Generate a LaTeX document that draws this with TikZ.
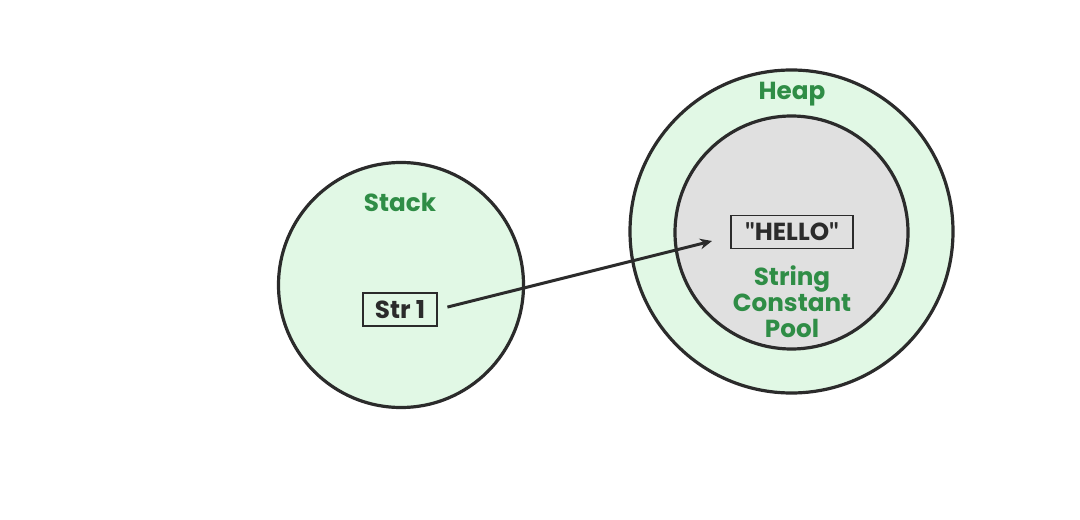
\documentclass[tikz,border=0pt]{standalone}
\usepackage{fontspec}
\setmainfont{Poppins}
\newfontfamily\quotefont{Lato}
\usetikzlibrary{arrows.meta}

\definecolor{gfggreen}{HTML}{2F8D46}
\definecolor{memfill}{HTML}{E1F8E5}
\definecolor{poolfill}{HTML}{E0E0E0}
\definecolor{edge}{HTML}{2B2B2B}

\newcommand{\dq}{{\quotefont\bfseries\symbol{34}}}

\tikzset{
    area/.style={circle, draw=edge, line width=2.4pt, fill=memfill, inner sep=0pt},
    title/.style={text=gfggreen, font=\fontsize{18.5}{19.5}\selectfont\bfseries, align=center},
    var/.style={draw=edge, line width=1.1pt, font=\fontsize{18.5}{20}\selectfont\bfseries,
        text=edge, inner sep=0pt, minimum height=24.75pt}
}

\begin{document}
\begin{tikzpicture}[x=0.75pt, y=-0.75pt]
            \useasboundingbox (0,0) rectangle (1080,520);

            \node [area, minimum size=183.75pt] (stack) at (401,285) {};
            \node [area, minimum size=242.25pt] (heap) at (791.5,231.5) {};
            \node [area, fill=poolfill, minimum size=174.75pt] (pool) at (791.5,232.5) {};

            \node [title] (stacklbl) at (400,202) {Stack};
            \node [title] (heaplbl) at (792,94) {Heap};
            \node [title] (poollbl) at (792,302) {String\\Constant\\Pool};

            \node [var, minimum width=55.5pt] (str) at (400,309.5) {Str 1};
            \node [var, minimum width=91.5pt] (hello) at (792,232) {\dq HELLO\dq};
            \coordinate (tip) at (712,241);

            \draw [-{Stealth[length=9pt, width=8pt]}, draw=edge, line width=2.25pt, shorten <=7.5pt] (str.east) to (tip);
        \end{tikzpicture}
\end{document}
